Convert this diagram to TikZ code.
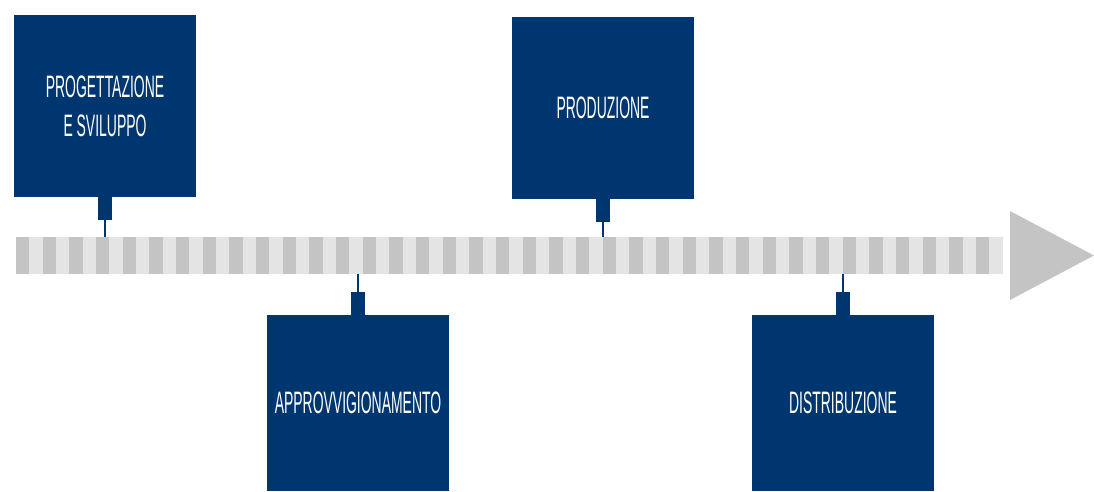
\documentclass[tikz,border=0pt]{standalone}
\usepackage{fontspec}
\newfontfamily\condfont[FakeStretch=0.45]{Liberation Sans}
\usetikzlibrary{positioning}
\definecolor{navy}{RGB}{0,54,112}
\definecolor{stripedark}{RGB}{196,196,196}
\definecolor{stripelight}{RGB}{228,228,228}

\begin{document}
\begin{tikzpicture}[x=1pt, y=-1pt,
    phase/.style={rectangle, fill=navy, text=white, minimum width=182pt, minimum height=182pt, inner sep=0pt, outer sep=0pt, align=center, font=\condfont\fontsize{31}{39}\selectfont},
    tab/.style={rectangle, fill=navy, minimum width=14pt, minimum height=23pt, inner sep=0pt, outer sep=0pt},
    stem/.style={draw=navy, line width=2.2pt}]
    \useasboundingbox (0,0) rectangle (1094,491);

    % Striped timeline bar
    \foreach \i in {0,...,36} {
        \fill[stripedark] (16+26.667*\i,237) rectangle ++(13.333,37);
        \fill[stripelight] (29.333+26.667*\i,237) rectangle ++(13.333,37);
    }
    \fill[stripedark] (1010,211) -- (1094,255.5) -- (1010,300) -- cycle;
    \coordinate (bartop) at (0,237);
    \coordinate (barbot) at (0,274);

    % Phases above the bar
    \node[phase] (prog) at (105,106) {PROGETTAZIONE\\E SVILUPPO};
    \node[phase] (prod) at (603,108) {PRODUZIONE};
    \node[tab, below=0pt of prog] (progtab) {};
    \node[tab, below=0pt of prod] (prodtab) {};

    % Phases below the bar
    \node[phase, minimum height=176pt] (appr) at (358,403) {APPROVVIGIONAMENTO};
    \node[phase, minimum height=176pt] (dist) at (843,403) {DISTRIBUZIONE};
    \node[tab, above=0pt of appr] (apprtab) {};
    \node[tab, above=0pt of dist] (disttab) {};

    % Stems to the bar
    \draw[stem] (progtab.south) -- (progtab.south |- bartop);
    \draw[stem] (prodtab.south) -- (prodtab.south |- bartop);
    \draw[stem] (apprtab.north) -- (apprtab.north |- barbot);
    \draw[stem] (disttab.north) -- (disttab.north |- barbot);
\end{tikzpicture}
\end{document}
